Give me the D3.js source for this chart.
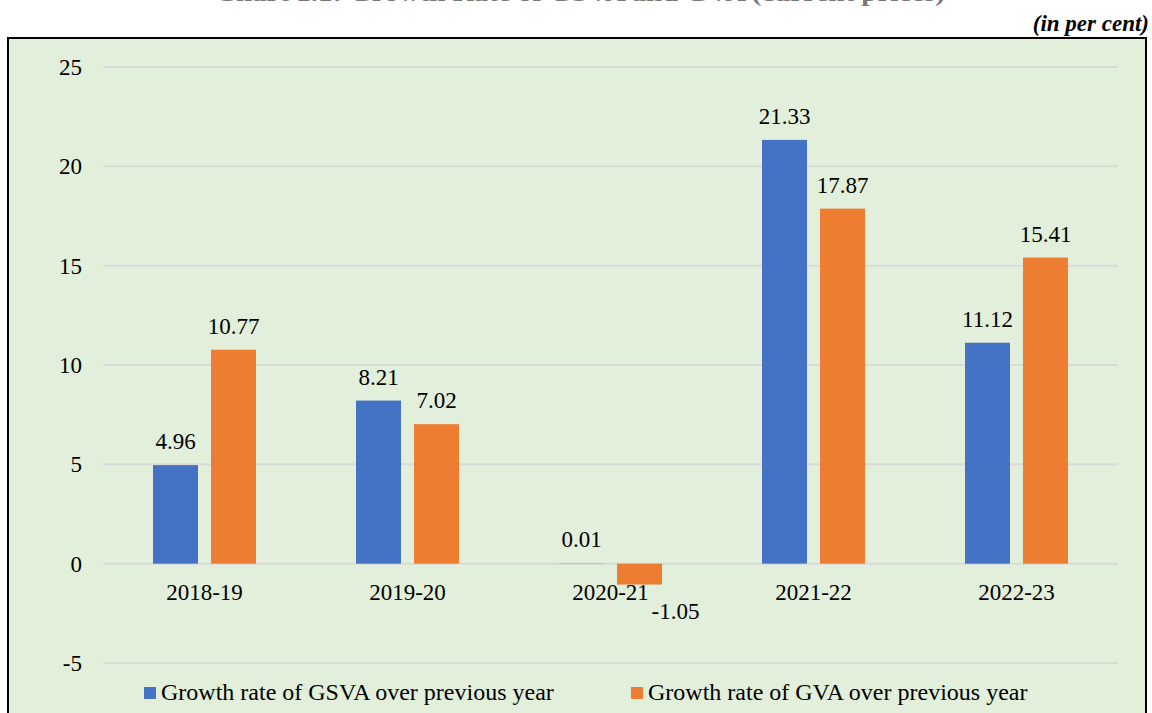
<!DOCTYPE html>
<html><head><meta charset="utf-8">
<script src="https://cdn.jsdelivr.net/npm/d3@7/dist/d3.min.js"></script>
<style>body{margin:0;background:#fff;}svg{display:block;}text{font-family:"Liberation Serif","Times New Roman",Times,serif;}</style>
</head><body><svg id="c" width="1152" height="713"></svg>
<script>
const categories = ["2018-19","2019-20","2020-21","2021-22","2022-23"];
const seriesNames = ["Growth rate of GSVA over previous year","Growth rate of GVA over previous year"];
const gsva = [4.96, 8.21, 0.01, 21.33, 11.12];
const gva = [10.77, 7.02, -1.05, 17.87, 15.41];
const yTicks = [-5, 0, 5, 10, 15, 20, 25];
const colors = ["#4472C4", "#ED7D31"];

const svg = d3.select("#c");
// title (cut off at top edge, as in the reference)
svg.append("text").attr("x", 580).attr("y", 1).attr("text-anchor","middle")
  .attr("font-size", 24).attr("font-weight","bold").attr("fill","#777")
  .attr("textLength", 730).attr("lengthAdjust", "spacingAndGlyphs")
  .text("Chart 1.1: Growth Rate of GSVA and GVA (current prices)");
svg.append("text").attr("x", 1149).attr("y", 31).attr("text-anchor","end")
  .attr("font-size", 23).attr("font-weight","bold").attr("font-style","italic").text("(in per cent)");
// background box
svg.append("rect").attr("x", 8).attr("y", 38).attr("width", 1138).attr("height", 690)
  .attr("fill", "#E2EFDA").attr("stroke", "#000").attr("stroke-width", 2);

const y = d3.scaleLinear().domain([-5, 25]).range([663, 67]);
const x0 = d3.scaleBand().domain(categories).range([103, 1118]).paddingInner(0).paddingOuter(0);
const x1 = d3.scaleBand().domain([0,1]).range([0, 103]).paddingInner(13/58).paddingOuter(0);
const groupOffset = (x0.bandwidth() - 103) / 2;

// grid
svg.append("g").selectAll("line").data(yTicks).join("line")
  .attr("x1", 103).attr("x2", 1118).attr("y1", d => y(d)).attr("y2", d => y(d))
  .attr("stroke", "#D9D9D9").attr("stroke-width", 2);
// y tick labels
svg.append("g").selectAll("text").data(yTicks).join("text")
  .attr("x", 82).attr("y", d => y(d)).attr("dy", "0.35em").attr("text-anchor","end")
  .attr("font-size", 23).text(d => d);

const data = [gsva, gva];
data.forEach((vals, si) => {
  const g = svg.append("g");
  g.selectAll("rect").data(vals).join("rect")
    .attr("x", (d,i) => x0(categories[i]) + groupOffset + x1(si))
    .attr("width", x1.bandwidth())
    .attr("y", d => y(Math.max(0,d)))
    .attr("height", d => Math.abs(y(d) - y(0)))
    .attr("fill", colors[si]);
  g.selectAll("text").data(vals).join("text")
    .attr("x", (d,i) => x0(categories[i]) + groupOffset + x1(si) + x1.bandwidth()/2 + (d < 0 ? 36 : 0))
    .attr("y", d => d < 0 ? y(d) + 34 : y(d) - 16)
    .attr("text-anchor","middle").attr("font-size", 23)
    .text(d => d.toFixed(2));
});

// category labels
svg.append("g").selectAll("text").data(categories).join("text")
  .attr("x", d => x0(d) + x0.bandwidth()/2).attr("y", 600)
  .attr("text-anchor","middle").attr("font-size", 23).text(d => d);

// legend
const legX = [144, 631];
seriesNames.forEach((n, i) => {
  svg.append("rect").attr("x", legX[i]).attr("y", 687).attr("width", 12).attr("height", 12).attr("fill", colors[i]);
  svg.append("text").attr("x", legX[i] + 17).attr("y", 700).attr("font-size", 24).text(n);
});
</script></body></html>
